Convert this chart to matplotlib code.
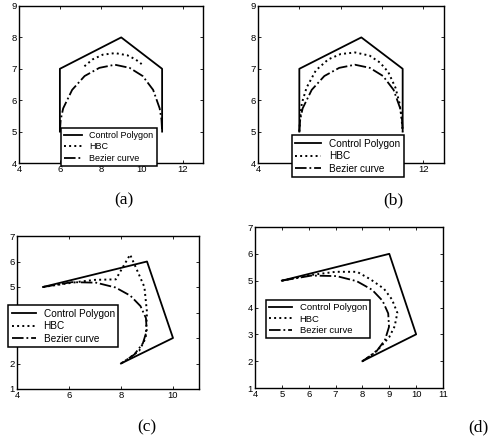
import matplotlib
matplotlib.use('Agg')
import matplotlib.pyplot as plt

plt.rcParams['font.family'] = ['Liberation Sans', 'DejaVu Sans']

# control polygons
poly_ab_x = [6, 6, 9, 11, 11]
poly_ab_y = [5, 7, 8, 7, 5]
poly_cd_x = [5, 9, 10, 8]
poly_cd_y = [5, 6, 3, 2]

# bezier curves
bez_ab_x = [6, 6.04, 6.16, 6.6, 7.21, 7.93, 8.69, 9.41, 10.05, 10.56, 10.88, 10.97, 11]
bez_ab_y = [5, 5.38, 5.74, 6.33, 6.77, 7.03, 7.13, 7.03, 6.77, 6.33, 5.74, 5.38, 5]
bez_cd_x = [5, 6.11, 7.04, 7.79, 8.36, 8.75, 8.96, 8.99, 8.84, 8.51, 8]
bez_cd_y = [5, 5.19, 5.17, 4.98, 4.66, 4.25, 3.78, 3.28, 2.79, 2.35, 2]

# HBC curves
hbc_a_x = [7.2, 7.6, 8.1, 8.7, 9.3, 9.7, 10.0]
hbc_a_y = [7.08, 7.3, 7.45, 7.5, 7.43, 7.3, 7.15]
hbc_b_x = [6, 6.05, 6.12, 6.35, 6.8, 7.4, 8.0, 8.7, 9.4, 9.9, 10.3, 10.65, 10.85, 10.95, 11]
hbc_b_y = [5, 5.5, 5.9, 6.4, 6.95, 7.3, 7.47, 7.52, 7.42, 7.2, 6.9, 6.4, 5.9, 5.4, 5]
hbc_c_x = [5, 6, 6.5, 7, 7.8, 8.35, 8.6, 8.9, 9.0, 8.95, 8.7, 8.3, 8]
hbc_c_y = [5, 5.15, 5.22, 5.28, 5.3, 6.27, 5.7, 5.0, 4.0, 3.0, 2.5, 2.2, 2]
hbc_d_x = [5, 6, 7, 7.8, 8.3, 8.8, 9.1, 9.3, 9.2, 9.0, 8.6, 8.3, 8]
hbc_d_y = [5, 5.2, 5.33, 5.33, 5.05, 4.7, 4.3, 3.8, 3.3, 2.9, 2.45, 2.2, 2]

labels = ['Control Polygon', 'HBC', 'Bezier curve']

W, H = 489, 440
fig = plt.figure(figsize=(W / 100, H / 100), dpi=100)

def px_rect(l, r, t, b):
    return [l / W, 1 - b / H, (r - l) / W, (b - t) / H]

panels = [
    # rect, xlim, ylim, xticks, yticks, polygon, hbc, bezier, legend corner, legend font
    (px_rect(19, 203, 6, 163), (4, 13), (4, 9), [4, 6, 8, 10, 12], range(4, 10),
     (poly_ab_x, poly_ab_y), (hbc_a_x, hbc_a_y), (bez_ab_x, bez_ab_y), (61, 128), 6.5, 2.0),
    (px_rect(258, 444, 6, 163), (4, 13), (4, 9), [4, 6, 8, 10, 12], range(4, 10),
     (poly_ab_x, poly_ab_y), (hbc_b_x, hbc_b_y), (bez_ab_x, bez_ab_y), (292, 135), 7.2, 2.6),
    (px_rect(17, 199, 236, 389), (4, 11), (1, 7), [4, 6, 8, 10], range(1, 8),
     (poly_cd_x, poly_cd_y), (hbc_c_x, hbc_c_y), (bez_cd_x, bez_cd_y), (8, 305), 7.2, 2.4),
    (px_rect(255, 443, 227, 388), (4, 11), (1, 7), range(4, 12), range(1, 8),
     (poly_cd_x, poly_cd_y), (hbc_d_x, hbc_d_y), (bez_cd_x, bez_cd_y), (266, 300), 6.8, 2.4),
]

for rect, xl, yl, xt, yt, poly, hbc, bez, lc, lfs, hl in panels:
    ax = fig.add_axes(rect)
    ax.plot(poly[0], poly[1], 'k-', lw=1.3, label=labels[0])
    ax.plot(hbc[0], hbc[1], 'k:', lw=1.4, label=labels[1])
    ax.plot(bez[0], bez[1], 'k-.', lw=1.3, label=labels[2])
    ax.set_xlim(xl)
    ax.set_ylim(yl)
    ax.set_xticks(list(xt))
    ax.set_yticks(list(yt))
    ax.tick_params(direction='in', top=True, right=True, length=2.5, width=0.6,
                   labelsize=6.8, pad=1.5)
    for s in ax.spines.values():
        s.set_linewidth(1.0)
    leg = ax.legend(loc='upper left', bbox_to_anchor=(lc[0] / W, 1 - lc[1] / H),
                    bbox_transform=fig.transFigure, borderaxespad=0, fontsize=lfs,
                    fancybox=False, framealpha=1, edgecolor='black',
                    handlelength=hl, labelspacing=0.25, borderpad=0.35)
    leg.get_frame().set_linewidth(1.1)

tags = [('(a)', 124, 200), ('(b)', 393, 200), ('(c)', 147, 427), ('(d)', 478, 427)]
for t, x, y in tags:
    fig.text(x / W, 1 - y / H, t, ha='center', va='center', fontsize=12.5,
             family=['Liberation Serif', 'DejaVu Serif'])

fig.savefig('out.png', dpi=100)
